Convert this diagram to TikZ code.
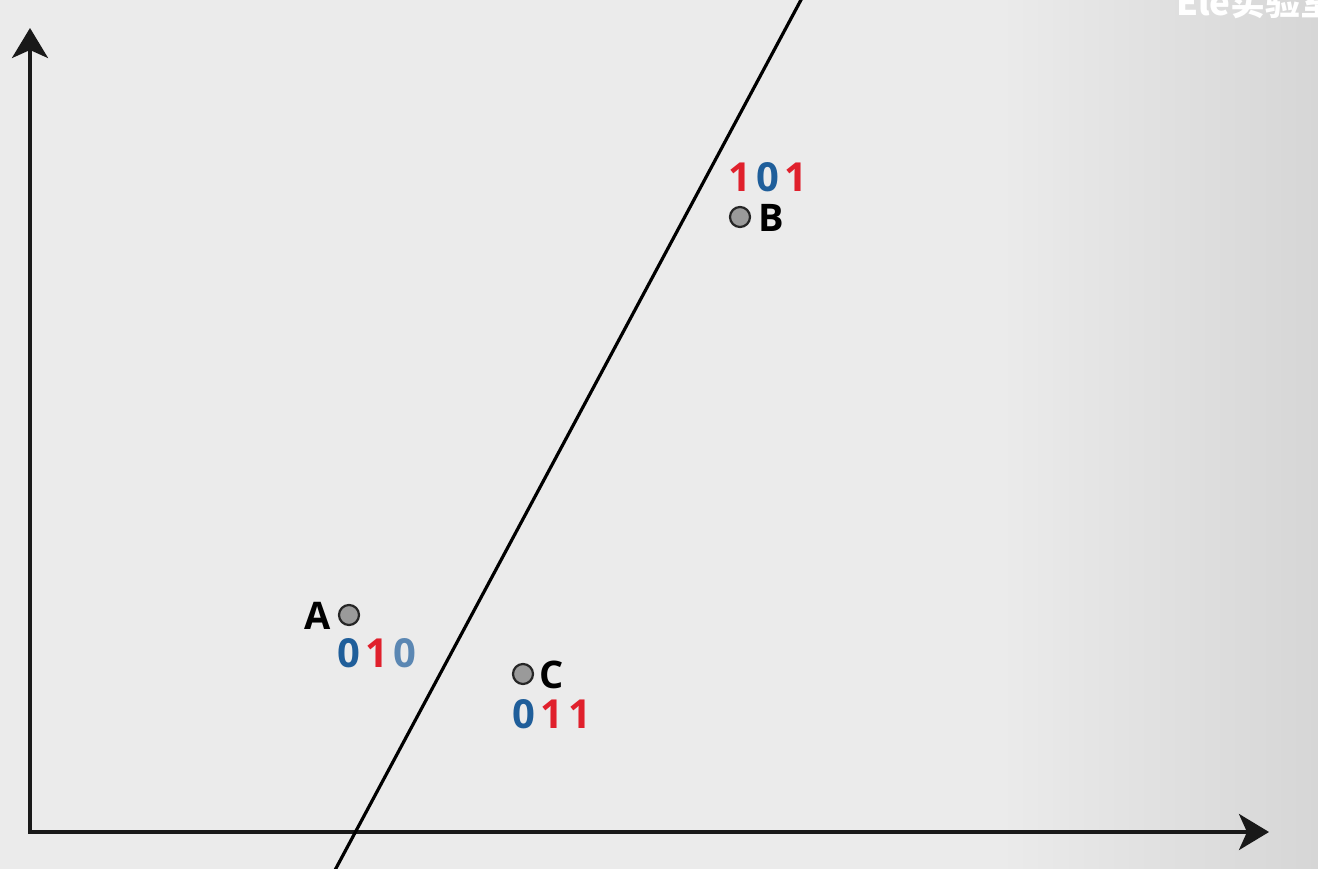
\documentclass[tikz,border=0pt]{standalone}
\usepackage{fontspec}
\setmainfont{Open Sans}
\newfontfamily\cjk{Noto Sans CJK SC}
\usetikzlibrary{arrows.meta}
\definecolor{paper}{HTML}{EBEBEB}
\definecolor{paperdark}{HTML}{D6D6D6}
\definecolor{codeblue}{HTML}{1F5E9A}
\definecolor{codeblue2}{HTML}{5B87B3}
\definecolor{codered}{HTML}{E0202C}
\definecolor{dotgray}{HTML}{9A9A9A}
\newcommand{\dsp}{\hspace{5pt}}
\tikzset{
  axis/.style={line width=3.5pt, draw=black!90, -{Stealth[length=30pt,width=36pt,inset=8pt]}},
  sep/.style={line width=3.2pt, draw=black},
  dot/.style={circle, draw=black!85, fill=dotgray, line width=2.2pt, inner sep=0pt, minimum size=20pt},
  lbl/.style={font=\fontsize{38}{44}\selectfont\bfseries, text=black, inner sep=0pt},
  code/.style={font=\fontsize{40}{46}\selectfont\bfseries, inner sep=0pt},
  wmark/.style={font=\cjk\fontsize{35}{40}\selectfont\bfseries, text=white, inner sep=0pt, anchor=base west}
}
\begin{document}
\begin{tikzpicture}[x=1pt,y=-1pt]
\useasboundingbox (0,0) rectangle (1318,869);
\fill[paper] (0,0) rectangle (1318,869);
\shade[left color=paper, right color=paperdark] (1000,0) rectangle (1318,869);
\begin{scope}
\clip (0,0) rectangle (1318,869);
\node[wmark] (wm) at (1176,16) {Ele实验室};
% axes
\coordinate (O) at (30,832);
\coordinate (Ytop) at (30,28);
\coordinate (Xend) at (1269,832);
\draw[axis] (O) -- (Ytop);
\draw[axis] ([xshift=-1.7pt]O) -- (Xend);
% separating line
\coordinate (L1) at (334,872);
\coordinate (L2) at (802,-2);
\draw[sep] (L1) -- (L2);
\end{scope}
% points
\node[dot] (A) at (349,615) {};
\node[dot] (B) at (740,217) {};
\node[dot] (C) at (523,674) {};
\node[lbl] (Alab) at (318,616) {A};
\node[lbl] (Blab) at (771,218) {B};
\node[lbl] (Clab) at (552,675) {C};
\node[code] (Acode) at (377,653) {\textcolor{codeblue}{0}\dsp\textcolor{codered}{1}\dsp\textcolor{codeblue2}{0}};
\node[code] (Bcode) at (768,177) {\textcolor{codered}{1}\dsp\textcolor{codeblue}{0}\dsp\textcolor{codered}{1}};
\node[code] (Ccode) at (552,714) {\textcolor{codeblue}{0}\dsp\textcolor{codered}{1}\dsp\textcolor{codered}{1}};
\end{tikzpicture}
\end{document}
